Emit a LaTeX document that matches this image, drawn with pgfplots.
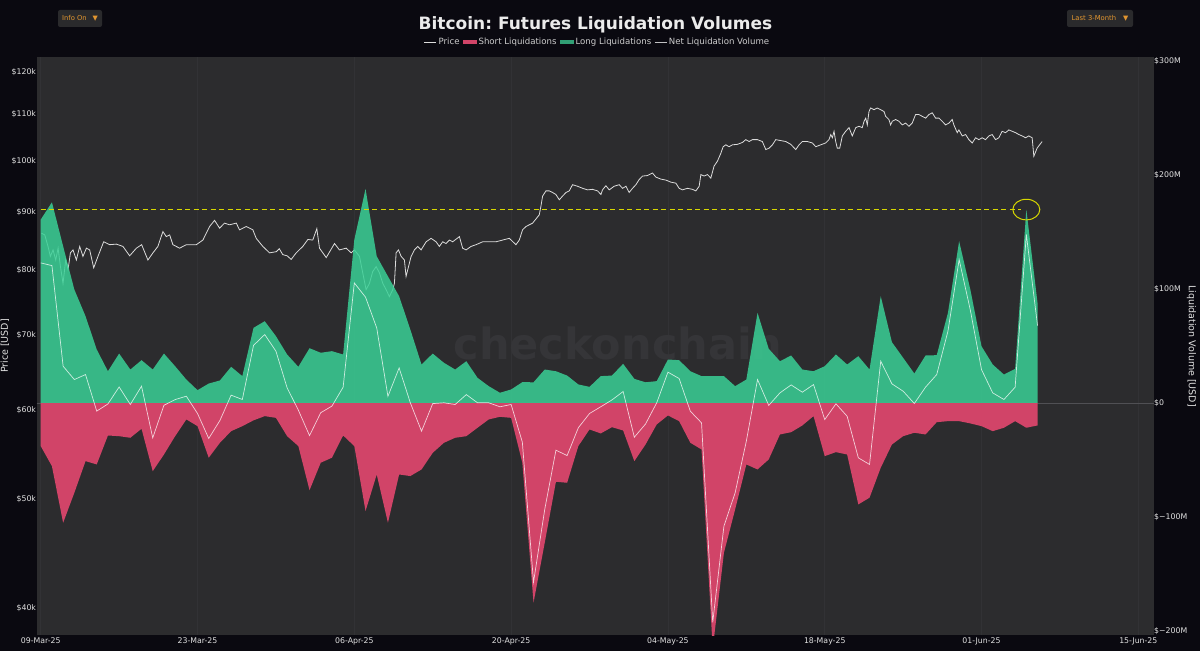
\documentclass[border=0pt]{standalone}
\usepackage{fontspec}
\setmainfont{DejaVu Sans}
\usepackage{pgfplots}
\usepackage{pgfplotstable}
\pgfplotsset{compat=1.18}
\frenchspacing

\definecolor{outerbg}{RGB}{10,9,16}
\definecolor{plotbg}{RGB}{44,44,46}
\definecolor{gridc}{RGB}{50,50,53}
\definecolor{longc}{RGB}{58,208,150}
\definecolor{longleg}{RGB}{56,186,135}
\definecolor{shortc}{RGB}{209,68,104}
\definecolor{pricec}{RGB}{220,220,220}
\definecolor{yel}{RGB}{215,215,0}
\definecolor{tickc}{RGB}{225,225,225}
\definecolor{legc}{RGB}{205,205,205}
\definecolor{btnbg}{RGB}{42,42,44}
\definecolor{btntxt}{RGB}{226,150,48}
\definecolor{wm}{RGB}{53,53,56}
\definecolor{zeroc}{RGB}{80,80,84}

\pgfplotsset{
  barleg/.style={legend image code/.code={\fill[##1] (0pt,-1.8pt) rectangle (14pt,1.8pt);}},
  lineleg/.style={legend image code/.code={\draw[##1] (0pt,0pt) -- (12pt,0pt);}},
}

% day index: 0 = 09-Mar-25 ; values in USD millions
\pgfplotstableread{
d long short net
0 160.8 -38.0 122.8
1 176.0 -55.6 120.4
2 137.4 -105.3 32.1
3 99.4 -79.0 20.4
4 76.0 -51.2 24.8
5 46.8 -54.1 -7.3
6 27.7 -28.7 -1.0
7 43.2 -29.3 13.9
8 29.2 -30.7 -1.5
9 37.4 -22.8 14.6
10 29.2 -60.0 -30.8
11 43.2 -45.4 -2.2
12 32.1 -29.3 2.8
13 20.4 -14.6 5.8
14 11.1 -20.5 -9.4
15 16.9 -48.2 -31.3
16 19.6 -35.1 -15.5
17 31.6 -24.9 6.7
18 23.4 -20.5 2.9
19 65.8 -15.4 50.4
20 71.6 -11.7 59.9
21 58.5 -13.2 45.3
22 42.4 -29.3 13.1
23 31.6 -38.0 -6.4
24 47.9 -76.7 -28.8
25 43.9 -52.6 -8.7
26 45.3 -48.2 -2.9
27 42.4 -28.7 13.7
28 143.2 -38.0 105.2
29 187.7 -95.0 92.7
30 128.6 -62.9 65.7
31 111.0 -105.3 5.7
32 93.5 -62.9 30.6
33 64.3 -64.3 0.0
34 33.6 -58.5 -24.9
35 43.2 -43.9 -0.7
36 35.1 -35.1 0.0
37 29.2 -30.7 -1.5
38 36.5 -29.3 7.2
39 21.9 -21.9 0.0
40 14.6 -14.6 0.0
41 8.8 -12.3 -3.5
42 11.7 -13.2 -1.5
43 18.1 -52.6 -34.5
44 18.0 -175.4 -157.4
45 29.2 -122.8 -93.6
46 27.7 -69.3 -41.6
47 23.9 -70.2 -46.3
48 16.1 -38.0 -21.9
49 14.0 -23.4 -9.4
50 23.4 -26.9 -3.5
51 23.9 -21.4 2.5
52 34.2 -24.3 9.9
53 21.0 -51.2 -30.2
54 18.0 -36.6 -18.6
55 19.0 -19.0 0.0
56 38.0 -11.1 26.9
57 37.4 -16.1 21.3
58 27.7 -35.1 -7.4
59 23.4 -41.0 -17.6
60 23.4 -216.0 -192.6
61 23.4 -131.6 -108.2
62 14.6 -93.6 -79.0
63 20.4 -54.1 -33.7
64 78.9 -58.5 20.4
65 47.4 -49.7 -2.3
66 36.5 -27.8 8.7
67 41.5 -25.8 15.7
68 29.2 -19.9 9.3
69 27.7 -11.7 16.0
70 32.1 -46.8 -14.7
71 42.4 -43.3 -0.9
72 33.6 -45.4 -11.8
73 40.9 -89.2 -48.3
74 29.2 -83.3 -54.1
75 93.5 -57.0 36.5
76 53.2 -36.6 16.6
77 39.5 -29.3 10.2
78 25.7 -26.3 -0.6
79 41.5 -27.8 13.7
80 41.8 -17.0 24.8
81 78.9 -16.1 62.8
82 141.8 -16.1 125.7
83 99.4 -18.1 81.3
84 49.6 -20.5 29.1
85 33.6 -24.9 8.7
86 24.8 -21.9 2.9
87 29.8 -16.1 13.7
88 169.6 -21.9 147.7
89 87.7 -19.9 67.8
}\liq

% price in USD thousands
\pgfplotstableread{
d p
0.06 86.2
0.36 85.9
0.65 83.9
0.86 82.2
1.10 83.3
1.34 81.6
1.55 83.6
1.76 80.5
1.99 77.8
2.23 81.6
2.44 80.0
2.65 82.8
2.88 83.3
3.18 81.6
3.48 83.9
3.77 82.2
4.08 83.6
4.37 83.3
4.73 80.3
5.11 82.2
5.62 84.7
6.16 84.2
6.75 84.3
7.34 83.9
7.94 82.3
8.54 83.6
9.01 84.2
9.57 81.6
10.02 82.8
10.46 83.9
10.91 86.5
11.21 85.6
11.51 85.9
11.80 84.2
12.40 83.6
13.00 84.2
13.89 84.2
14.48 85.0
15.08 87.4
15.52 88.5
15.97 87.1
16.41 88.0
16.86 87.7
17.46 88.0
17.75 86.8
18.35 87.4
18.94 86.8
19.24 85.3
19.83 83.9
20.43 82.8
21.03 83.0
21.30 83.5
21.61 82.5
22.00 82.3
22.36 81.7
22.81 82.8
23.40 83.9
23.85 85.1
24.29 85.0
24.65 87.0
24.89 83.6
25.49 82.0
26.23 84.4
26.67 83.3
27.27 83.6
27.72 82.8
28.01 83.3
28.46 82.2
28.75 79.5
29.05 76.8
29.35 77.8
29.64 79.7
29.95 80.5
30.24 79.5
30.54 77.8
30.84 76.8
31.13 75.7
31.43 76.8
31.58 77.8
31.73 82.8
31.94 83.3
32.18 82.2
32.47 81.6
32.62 78.9
32.77 80.0
33.07 82.2
33.36 83.3
33.66 83.9
33.96 83.3
34.41 84.7
34.85 85.3
35.30 84.7
35.59 83.9
35.89 84.7
36.19 84.4
36.49 85.0
36.78 84.7
37.38 85.6
37.67 83.6
37.98 83.3
38.42 83.9
38.87 84.2
39.46 84.7
40.05 84.7
40.65 84.7
41.24 85.0
41.84 85.3
42.43 84.2
42.73 85.0
43.02 86.8
43.33 87.4
43.62 87.7
43.92 88.0
44.51 89.5
44.66 91.1
44.81 93.0
45.11 94.0
45.41 94.0
45.70 93.7
46.00 93.3
46.30 92.3
46.59 93.0
46.90 93.7
47.19 94.0
47.48 95.2
47.93 94.9
48.38 94.5
48.82 94.2
49.27 94.3
49.72 94.0
50.02 93.3
50.16 94.2
50.46 95.0
50.76 94.2
51.20 94.9
51.65 95.2
51.95 94.5
52.25 94.9
52.54 93.7
52.84 94.5
53.14 95.2
53.43 96.2
53.73 96.9
54.17 97.0
54.62 97.5
54.92 96.7
55.37 96.3
55.82 96.1
56.26 95.7
56.71 95.5
57.00 94.5
57.30 94.2
57.74 94.5
58.19 94.3
58.49 94.0
58.79 94.9
58.94 97.2
59.23 96.9
59.53 97.2
59.83 96.5
60.12 98.9
60.42 99.9
60.72 101.5
60.93 102.9
61.17 103.3
61.46 102.9
61.76 103.3
62.20 103.4
62.65 103.8
62.95 104.4
63.25 104.0
63.54 104.4
63.99 104.4
64.43 104.0
64.74 102.3
65.03 102.6
65.33 103.3
65.63 104.4
66.07 104.2
66.52 104.0
66.97 103.4
67.41 102.3
67.71 103.3
68.00 104.0
68.45 104.0
68.89 103.7
69.20 102.9
69.64 103.3
70.09 103.7
70.38 104.4
70.54 105.5
70.68 104.8
70.83 106.2
70.98 104.0
71.12 102.6
71.34 102.6
71.57 105.2
71.87 106.2
72.17 107.0
72.46 105.2
72.77 107.0
73.06 107.3
73.35 107.0
73.51 108.4
73.66 109.1
73.80 107.6
73.95 110.6
74.10 111.4
74.40 111.0
74.69 111.4
74.99 111.0
75.29 110.6
75.44 109.5
75.73 108.8
75.88 107.6
76.03 108.4
76.33 108.8
76.63 108.4
76.92 107.6
77.22 108.0
77.52 107.3
77.81 108.0
78.11 109.9
78.41 109.9
78.71 109.5
79.01 109.1
79.30 109.9
79.60 110.3
79.90 109.1
80.20 109.1
80.49 108.4
80.79 107.6
81.09 108.0
81.38 108.8
81.53 107.6
81.83 105.9
81.98 106.5
82.28 105.2
82.58 105.5
82.87 104.4
83.17 103.7
83.47 104.8
83.76 104.4
84.06 104.8
84.36 104.4
84.66 105.2
84.95 105.5
85.25 104.4
85.55 104.8
85.84 106.2
86.15 105.9
86.44 106.5
86.74 106.2
87.04 105.9
87.33 105.5
87.63 105.2
87.93 104.8
88.22 105.2
88.52 104.8
88.67 100.9
88.96 102.6
89.41 104.0
}\price

\begin{document}
\begin{tikzpicture}
\path[use as bounding box] (0,0) rectangle (1200pt,651pt);
\fill[outerbg] (0,0) rectangle (1200pt,651pt);

% ---------- price axis (left, log) ----------
\begin{axis}[
  at={(36.7pt,16pt)}, anchor=south west,
  width=1117.3pt, height=578pt, scale only axis,
  xmin=-0.36, xmax=99.4,
  ymode=log, ymin=37.87, ymax=123.66,
  axis background/.style={fill=plotbg},
  axis line style={draw=none},
  tick style={draw=none},
  xtick={0,14,28,42,56,70,84,98},
  xticklabels={09-Mar-25,23-Mar-25,06-Apr-25,20-Apr-25,04-May-25,18-May-25,01-Jun-25,15-Jun-25},
  ytick={40,50,60,70,80,90,100,110,120},
  yticklabels={\$40k,\$50k,\$60k,\$70k,\$80k,\$90k,\$100k,\$110k,\$120k},
  ticklabel style={font=\fontsize{7.8}{9}\selectfont, text=tickc},
  yticklabel style={inner xsep=0.5pt},
  xticklabel style={inner ysep=2.5pt},
  xmajorgrids, grid style={gridc, line width=0.5pt},
  ylabel={Price [USD]},
  every axis y label/.style={at={(axis description cs:-0.0284,0.5)}, rotate=90, anchor=center, font=\fontsize{9.5}{11}\selectfont, text=tickc},
]
\node[font=\fontsize{43}{50}\bfseries\selectfont, text=wm] at (axis description cs:0.5203,0.505) {checkonchain};
\addplot[pricec, line width=0.8pt] table[x=d, y=p] {\price};
\end{axis}

% ---------- liquidation axis (right, linear) ----------
\begin{axis}[
  at={(36.7pt,16pt)}, anchor=south west,
  width=1117.3pt, height=578pt, scale only axis,
  xmin=-0.36, xmax=99.4,
  ymin=-203.8, ymax=303.5,
  hide x axis,
  axis y line*=right,
  axis line style={draw=none},
  tick style={draw=none},
  ytick={-200,-100,0,100,200,300},
  yticklabels={\$−200M,\$−100M,\$0,\$100M,\$200M,\$300M},
  yticklabel style={font=\fontsize{7.8}{9}\selectfont, text=tickc, anchor=west, inner xsep=0pt},
  ylabel={Liquidation Volume [USD]},
  every axis y label/.style={at={(axis description cs:1.0336,0.5)}, rotate=-90, anchor=center, font=\fontsize{9.5}{11}\selectfont, text=tickc},
  legend style={at={(axis description cs:0.5019,1.026)}, anchor=center, legend columns=-1, draw=none, fill=none,
    font=\fontsize{8.6}{10}\selectfont, text=legc,
    /tikz/every even column/.append style={column sep=1pt}},
  legend cell align=left,
]
\addlegendimage{pricec, line width=0.8pt, lineleg}
\addplot[zeroc, line width=0.5pt, forget plot] coordinates {(-0.36,0) (99.4,0)};
\addplot[draw=none, fill=shortc, barleg] table[x=d, y=short] {\liq} \closedcycle;
\addplot[draw=none, fill=longc, fill opacity=0.85, legend image code/.code={\fill[longleg] (0pt,-1.8pt) rectangle (14pt,1.8pt);}] table[x=d, y=long] {\liq} \closedcycle;
\addplot[white, opacity=0.75, line width=0.7pt, lineleg] table[x=d, y=net] {\liq};
\addplot[draw=yel, opacity=1, line width=1.4pt, dash pattern=on 5pt off 3.5pt, forget plot] coordinates {(0,169.6) (87.5,169.6)};
\addplot[yel, only marks, mark=o, mark size=10.3pt, mark options={draw=yel, xscale=1.31, line width=1pt}, forget plot] coordinates {(88,169.6)};
\legend{Price, Short Liquidations, Long Liquidations, Net Liquidation Volume}
\end{axis}

% ---------- title and controls ----------
\node[anchor=base, font=\fontsize{17}{20}\bfseries\selectfont, text={rgb,255:red,235;green,235;blue,235}] at (595.5pt,621.5pt) {Bitcoin: Futures Liquidation Volumes};
\node[fill=btnbg, rounded corners=2pt, text=btntxt, font=\fontsize{6.8}{8}\selectfont, minimum width=44pt, minimum height=17pt, inner sep=0pt] at (80pt,632.5pt) {Info On\hspace{6pt}▼};
\node[fill=btnbg, rounded corners=2pt, text=btntxt, font=\fontsize{6.8}{8}\selectfont, minimum width=66pt, minimum height=17pt, inner sep=0pt] at (1100pt,632.5pt) {Last 3-Month\hspace{7pt}▼};
\end{tikzpicture}
\end{document}
